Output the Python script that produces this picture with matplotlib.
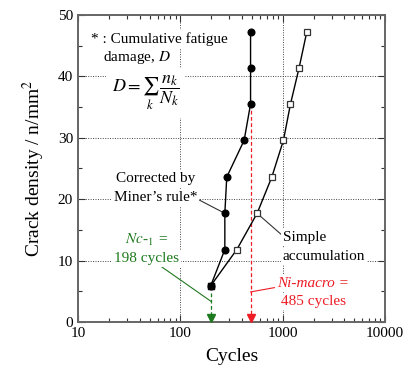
import matplotlib
matplotlib.use("Agg")
import matplotlib.pyplot as plt
from matplotlib.ticker import MultipleLocator, LogLocator, NullFormatter

plt.rcParams['font.family'] = ['Liberation Serif', 'DejaVu Serif']
plt.rcParams['mathtext.fontset'] = 'stix'

# Data
density = [5.9, 11.8, 17.7, 23.6, 29.6, 35.5, 41.4, 47.3]
cycles_miner = [198, 272, 272, 284, 420, 485, 485, 485]
cycles_simple = [198, 356, 562, 782, 1016, 1190, 1445, 1720]
nc1_cycles = 198
ni_macro_cycles = 485
xticks = [10, 100, 1000, 10000]
xtick_labels = ["10", "100", "1000", "10000"]
yticks = [0, 10, 20, 30, 40, 50]

fig = plt.figure(figsize=(4.08, 3.74), dpi=100)
ax = fig.add_axes([0.191, 0.139, 0.753, 0.821])
ax.set_xscale('log')
ax.set_xlim(10, 10000)
ax.set_ylim(0, 50)

# grid
ax.set_xticks(xticks)
ax.set_xticklabels(xtick_labels)
ax.set_yticks(yticks)
ax.yaxis.set_minor_locator(MultipleLocator(5))
ax.xaxis.set_minor_locator(LogLocator(base=10, subs=range(2, 10)))
ax.xaxis.set_minor_formatter(NullFormatter())
ax.grid(True, which='major', color='#444444', linestyle=(0, (1, 1.5)), linewidth=0.7)
ax.tick_params(which='both', direction='in', top=True, right=True, colors='#333333',
               labelsize=11, labelcolor='black')
ax.tick_params(which='major', length=5, width=0.8)
ax.tick_params(which='minor', length=3, width=0.8)
for s in ax.spines.values():
    s.set_color('#666666')
    s.set_linewidth(1.4)

# vertical dashed arrows
ax.plot([ni_macro_cycles, ni_macro_cycles], [density[5], 1.2], color='#ee1c25',
        linestyle=(0, (3, 2)), linewidth=0.9, zorder=3)
ax.plot([ni_macro_cycles], [0.7], marker='v', color='#ee1c25', markersize=6, zorder=5, clip_on=False)
ax.plot([nc1_cycles, nc1_cycles], [4.8, 1.2], color='#1e7a1e',
        linestyle=(0, (3, 2)), linewidth=0.9, zorder=3)
ax.plot([nc1_cycles], [0.7], marker='v', color='#1e7a1e', markersize=6, zorder=5, clip_on=False)

# series
ax.plot(cycles_simple, density, color='black', linewidth=1.0, marker='s', markersize=4,
        markerfacecolor='white', markeredgecolor='#333333', markeredgewidth=0.9, zorder=4)
ax.plot(cycles_miner, density, color='black', linewidth=1.0, marker='o', markersize=4.8,
        markerfacecolor='black', markeredgecolor='black', zorder=4)
ax.plot([cycles_simple[0]], [density[0]], marker='s', markersize=4.8, color='black', zorder=5)

bbox = dict(facecolor='white', edgecolor='none', pad=1.5)

# legend notes
ax.text(13.5, 46.0, "* : Cumulative fatigue", fontsize=11, ha='left', va='center', bbox=bbox, zorder=6)
ax.text(17.5, 43.1, "damage, $D$", fontsize=11, ha='left', va='center', bbox=bbox, zorder=6)
ax.text(46, 37.3, r"$D=\sum_{k}\,\dfrac{n_k}{N_k}$", fontsize=13, ha='center', va='center',
        bbox=dict(facecolor='white', edgecolor='none', pad=4), zorder=6)

# corrected by Miner's rule
ax.text(57, 23.3, "Corrected by", fontsize=11, ha='center', va='center', bbox=bbox, zorder=6)
ax.text(57, 20.2, "Miner\u2019s rule*", fontsize=11, ha='center', va='center', bbox=bbox, zorder=6)
ax.plot([140, cycles_miner[2]], [20.2, density[2]], color='#333333', linewidth=0.8, zorder=3)

# simple accumulation
ax.text(1000, 13.8, "Simple", fontsize=11, ha='left', va='center', bbox=bbox, zorder=6)
ax.text(1000, 10.7, "accumulation", fontsize=11, ha='left', va='center', bbox=bbox, zorder=6)
ax.plot([cycles_simple[2], 960], [density[2], 14.3], color='#333333', linewidth=0.8, zorder=3)

# Nc-1
ax.text(47, 13.4, r"$Nc$-$_{\mathit{1}}$ =", fontsize=11, ha='center', va='center',
        color='#1e7a1e', bbox=bbox, zorder=6, fontstyle='italic')
ax.text(47, 10.3, "198 cycles", fontsize=11, ha='center', va='center', color='#1e7a1e',
        bbox=bbox, zorder=6)
ax.plot([63, nc1_cycles], [9.2, 3.4], color='#1e7a1e', linewidth=0.8, zorder=3)

# Ni-macro
ax.text(1990, 6.3, "Ni-macro =", fontsize=11, ha='center', va='center', color='#ee1c25',
        fontstyle='italic', bbox=bbox, zorder=6)
ax.text(1990, 3.3, "485 cycles", fontsize=11, ha='center', va='center', color='#ee1c25',
        bbox=bbox, zorder=6)
ax.plot([ni_macro_cycles, 830], [4.9, 5.6], color='#ee1c25', linewidth=0.8, zorder=3)

ax.set_xlabel("Cycles", fontsize=14, labelpad=6)
ax.set_ylabel("Crack density / n/mm$^2$", fontsize=14, labelpad=8)

fig.savefig("out.png", dpi=100)
